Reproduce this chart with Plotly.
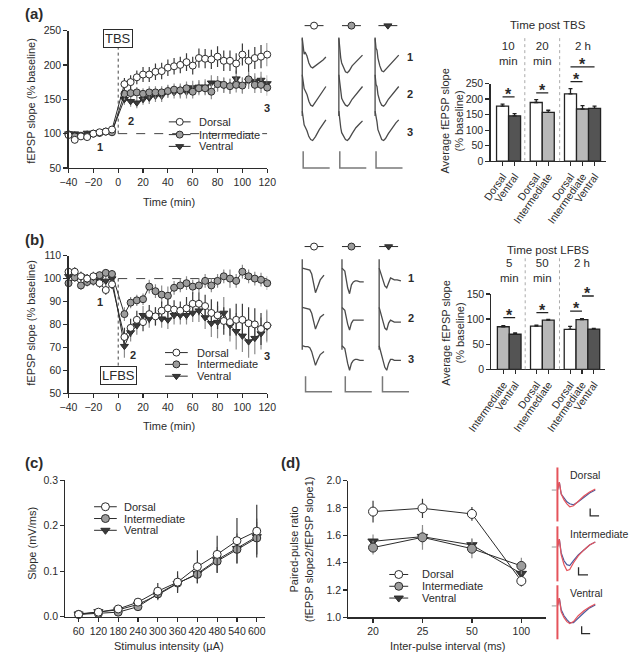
import plotly.graph_objects as go

W, H = 632, 661
FONT = "Liberation Sans, Arial, sans-serif"
INK = "#2b2b2b"

# ---------------- data ----------------
REGIONS = ["Dorsal", "Intermediate", "Ventral"]
TIME = [-40, -35, -30, -25, -20, -15, -10, -5, 5, 10, 15, 20, 25, 30, 35, 40, 45, 50,
        55, 60, 65, 70, 75, 80, 85, 90, 95, 100, 105, 110, 115, 120]

# (a) LTP time course (% baseline)
A_DORSAL = [98, 91, 96, 95, 100, 102, 103, 106, 172, 175, 182, 186, 186, 190, 191, 196, 198, 200,
            204, 199, 210, 209, 208, 212, 206, 206, 202, 215, 206, 210, 212, 215]
A_DORSAL_ERR = [4, 5, 4, 4, 3, 3, 3, 4, 9, 10, 10, 11, 11, 12, 12, 12, 12, 12, 13, 13, 14, 14, 14,
                15, 15, 15, 15, 16, 16, 16, 17, 17]
A_INTERM = [99, 96, 97, 96, 100, 101, 103, 102, 158, 159, 160, 158, 160, 160, 160, 162, 164, 163,
            166, 161, 166, 166, 161, 172, 171, 169, 171, 170, 179, 171, 171, 167]
A_INTERM_ERR = [4, 4, 4, 4, 3, 3, 3, 3, 9, 8, 8, 8, 9, 9, 9, 9, 9, 10, 10, 10, 10, 10, 11, 11, 11,
                11, 11, 11, 12, 12, 12, 12]
A_VENTRAL = [100, 100, 97, 101, 100, 101, 103, 103, 150, 147, 145, 150, 152, 155, 155, 161, 160,
             161, 161, 167, 168, 168, 174, 173, 170, 169, 180, 170, 177, 176, 178, 173]
A_VENTRAL_ERR = [4, 4, 4, 4, 3, 3, 3, 3, 8, 8, 8, 8, 9, 9, 9, 9, 9, 10, 10, 10, 10, 11, 11, 11, 11,
                 11, 12, 12, 12, 12, 12, 12]

# (b) LTD time course (% baseline)
B_DORSAL = [103, 103, 101, 100, 101, 98, 95, 97.5, 74.5, 78.5, 82, 81, 84.5, 83.5, 86, 87, 86.5,
            86, 87, 89, 89, 88, 85, 84, 81.5, 81, 82, 82, 80.5, 80, 78, 79.5]
B_DORSAL_ERR = [2, 2, 2, 2, 2, 2, 2, 2, 4, 4, 4, 4, 4, 4, 4, 4, 4, 4, 5, 5, 5, 5, 6, 6, 6, 6, 7, 7,
                7, 7, 7, 7]
B_INTERM = [98, 100.5, 97, 98.5, 99, 101.5, 102.5, 102, 84.5, 89.5, 90.5, 91, 96.5, 94.5, 93, 92.5,
            96, 97, 98, 96.5, 97, 99, 97, 99, 101, 100, 99, 103, 101, 100, 99.5, 98]
B_INTERM_ERR = [2, 2, 2, 2, 2, 1.5, 1.5, 1.5, 3, 2.5, 2.5, 2.5, 3, 3, 4, 4, 3, 3, 3, 3, 3, 3, 3, 3,
                3, 4, 3, 3, 3, 3, 3, 3]
B_VENTRAL = [101, 101, 101, 100, 99, 100, 99, 100, 70.5, 76.5, 79.5, 84, 82.5, 83.5, 82.5, 82, 84,
             84, 84, 85, 86, 83, 80.5, 81, 85, 79.5, 77, 75, 72.5, 74, 76, 79]
B_VENTRAL_ERR = [2, 2, 2, 2, 2, 2, 2, 2, 5, 4, 4, 4, 4, 4, 4, 4, 4, 4, 4, 4, 5, 5, 6, 7, 7, 7, 8, 7,
                 7, 7, 7, 7]

# bar summaries
BAR_A_LABELS = ["Dorsal", "Ventral", "Dorsal", "Intermediate", "Dorsal", "Intermediate", "Ventral"]
BAR_A_VALUES = [177, 146, 189, 157, 217, 168, 170]
BAR_A_ERR = [7, 7, 9, 7, 17, 11, 7]
BAR_A_GROUPS = ["10<br>min", "20<br>min", "2 h"]
BAR_A_SIG = [(0, 1, 207), (2, 3, 220), (4, 5, 256), (4, 6, 304)]

BAR_B_LABELS = ["Intermediate", "Ventral", "Dorsal", "Intermediate", "Dorsal", "Intermediate", "Ventral"]
BAR_B_VALUES = [84.7, 69.8, 86, 97.8, 79.6, 99, 80]
BAR_B_ERR = [2, 2.5, 2, 1.5, 6, 2, 1.5]
BAR_B_GROUPS = ["5<br>min", "50<br>min", "2 h"]
BAR_B_SIG = [(0, 1, 103), (2, 3, 113), (4, 5, 116), (5, 6, 146)]

# (c) input-output
STIM = [60, 120, 180, 240, 300, 360, 420, 480, 540, 600]
C_DORSAL = [0.005, 0.010, 0.017, 0.032, 0.056, 0.076, 0.110, 0.137, 0.167, 0.188]
C_DORSAL_ERR = [0.003, 0.004, 0.005, 0.007, 0.018, 0.024, 0.036, 0.041, 0.050, 0.058]
C_INTERM = [0.005, 0.007, 0.010, 0.022, 0.050, 0.074, 0.093, 0.122, 0.148, 0.173]
C_INTERM_ERR = [0.002, 0.003, 0.004, 0.005, 0.010, 0.015, 0.020, 0.025, 0.030, 0.035]
C_VENTRAL = [0.006, 0.011, 0.015, 0.027, 0.048, 0.073, 0.095, 0.125, 0.150, 0.176]
C_VENTRAL_ERR = [0.002, 0.003, 0.004, 0.006, 0.012, 0.018, 0.022, 0.028, 0.033, 0.040]

# (d) paired-pulse ratio
IPI = ["20", "25", "50", "100"]
D_DORSAL = [1.773, 1.797, 1.756, 1.266]
D_DORSAL_ERR = [0.08, 0.07, 0.05, 0.04]
D_INTERM = [1.51, 1.585, 1.502, 1.376]
D_INTERM_ERR = [0.05, 0.09, 0.07, 0.06]
D_VENTRAL = [1.556, 1.59, 1.529, 1.32]
D_VENTRAL_ERR = [0.05, 0.06, 0.05, 0.06]

# example fEPSP waveforms (deflection, arbitrary units) — rows 1, 2, 3
WAVE_T_A = [0, 1, 2, 3, 5, 7, 9, 11, 14, 18, 22, 25]
WAVE_A_DORSAL = [[0, 10, 16, 14, 18, 25, 29, 30, 28, 25, 22, 19],
                 [0, 8, 14, 16, 20, 27, 31, 32, 28, 22, 16, 12],
                 [0, 8, 14, 16, 20, 26, 29, 30, 26, 19, 13, 9]]
WAVE_A_INTERM = [[0, 12, 20, 25, 30, 34, 35, 33, 28, 24, 20, 17],
                 [0, 10, 18, 24, 28, 31, 32, 30, 25, 20, 15, 12],
                 [0, 10, 17, 22, 26, 29, 30, 28, 23, 17, 13, 10]]
WAVE_A_VENTRAL = [[0, 10, 12, 20, 28, 33, 34, 32, 28, 24, 20, 17],
                  [0, 10, 12, 20, 27, 31, 32, 30, 25, 20, 15, 12],
                  [0, 9, 11, 19, 25, 29, 30, 28, 23, 17, 12, 9]]

WAVE_T_B = [0, 3, 6, 8, 10, 12, 14, 16, 19, 23]
WAVE_B_DORSAL = [[0, 1, 2, 2, 6, 16, 25, 20, 12, 7],
                 [0, 1, 2, 2, 6, 15, 22, 17, 10, 7],
                 [0, 1, 1, 2, 6, 14, 20, 15, 9, 6]]
WAVE_B_INTERM = [[0, 3, 20, 26, 17, 14, 13, 13, 14, 14],
                 [0, 3, 17, 23, 16, 13, 13, 13, 13, 13],
                 [0, 3, 18, 25, 18, 15, 14, 14, 15, 15]]
WAVE_B_VENTRAL = [[0, 8, 18, 20, 14, 10, 11, 12, 12, 13],
                  [0, 10, 21, 23, 16, 13, 14, 15, 15, 15],
                  [0, 10, 22, 25, 18, 14, 14, 15, 15, 15]]

WAVE_T_D = [0, 2, 4, 7, 10, 13, 17, 22, 28, 34, 40]
WAVE_D_RED = [[0, -8, 4, 10, 14, 17, 16, 11, 6, 2, -1],
              [0, -8, 8, 18, 24, 23, 16, 9, 3, -2, -5],
              [0, -8, 6, 12, 16, 18, 16, 10, 5, 1, -2]]
WAVE_D_BLUE = [[0, -8, 4, 8, 12, 14, 15, 12, 7, 3, 0],
               [0, -8, 6, 14, 18, 19, 14, 8, 3, -2, -5],
               [0, -8, 4, 10, 14, 17, 17, 12, 7, 2, -1]]

# ---------------- styling / layout helpers ----------------
FILL = {"Dorsal": "white", "Intermediate": "#9d9d9d", "Ventral": "#3a3a3a"}
SYMBOL = {"Dorsal": "circle", "Intermediate": "circle", "Ventral": "triangle-down"}
ERRC = {"Dorsal": "#3a3a3a", "Intermediate": "#8c8c8c", "Ventral": "#8c8c8c"}
BARFILL = {"Dorsal": "white", "Intermediate": "#b8b8b8", "Ventral": "#545454"}

BAR_X = [1, 2, 3.8, 4.8, 6.65, 7.65, 8.65]
BAR_SEP = [2.85, 5.75]
GROUP_X = [1.5, 4.3, 7.65]


def dx(a, b):
    return [a / W, b / W]


def dy(top, bottom):
    return [1 - bottom / H, 1 - top / H]


def axis(dom, rng, anchor, **kw):
    d = dict(domain=dom, range=rng, anchor=anchor, showline=True, linecolor=INK, linewidth=1.2,
             ticks="outside", ticklen=4, tickwidth=1.2, tickcolor=INK, showgrid=False,
             zeroline=False, tickangle=0, tickfont=dict(family=FONT, size=10.5, color=INK))
    d.update(kw)
    return d


fig = go.Figure()
ann = []
shapes = []


def txt(x, y, s, size=11, xref="x9", yref="y9", **kw):
    d = dict(x=x, y=y, text=s, xref=xref, yref=yref, showarrow=False,
             font=dict(family=FONT, size=size, color=INK))
    d.update(kw)
    ann.append(d)


def pix_line(xs, ys, color=INK, width=1.2, dash=None):
    fig.add_trace(go.Scatter(x=xs, y=ys, mode="lines", xaxis="x9", yaxis="y9",
                             line=dict(color=color, width=width, dash=dash), hoverinfo="skip"))


def time_panel(xa, ya, series, msize=7):
    for name, vals, errs in series:
        fig.add_trace(go.Scatter(
            x=TIME, y=vals, xaxis=xa, yaxis=ya, mode="lines+markers", cliponaxis=False,
            line=dict(color=INK, width=1),
            marker=dict(symbol=SYMBOL[name], size=msize, color=FILL[name], line=dict(color=INK, width=1)),
            error_y=dict(type="data", array=errs, color=ERRC[name], thickness=1.2, width=0)))


def xy_panel(xa, ya, xs, series, msize=8):
    for name, vals, errs in series:
        fig.add_trace(go.Scatter(
            x=xs, y=vals, xaxis=xa, yaxis=ya, mode="lines+markers", cliponaxis=False,
            line=dict(color=INK, width=1),
            marker=dict(symbol=SYMBOL[name], size=msize, color=FILL[name], line=dict(color=INK, width=1)),
            error_y=dict(type="data", array=errs, color=ERRC[name], thickness=1.2, width=0)))


def legend(x0, x1, xt, ys, msize=7):
    for name, y in zip(REGIONS, ys):
        pix_line([x0, x1], [y, y], width=1)
        fig.add_trace(go.Scatter(x=[(x0 + x1) / 2], y=[y], mode="markers", xaxis="x9", yaxis="y9",
                                 marker=dict(symbol=SYMBOL[name], size=msize, color=FILL[name],
                                             line=dict(color=INK, width=1))))
        txt(xt, y, name, 11, xanchor="left", yanchor="middle")


def bar_panel(xa, ya, yo, labels, values, errs, sig, groups, title, sep_top, bottom, title_y,
              group_y):
    fig.add_trace(go.Bar(
        x=BAR_X, y=values, width=1, xaxis=xa, yaxis=ya,
        marker=dict(color=[BARFILL[l] for l in labels], line=dict(color="#222", width=1.3)),
        error_y=dict(type="data", array=errs, arrayminus=[0] * len(errs), symmetric=False,
                     color="#222", thickness=1.3, width=2)))
    for i, j, v in sig:
        fig.add_trace(go.Scatter(x=[BAR_X[i], BAR_X[j]], y=[v, v], xaxis=xa, yaxis=yo, mode="lines",
                                 line=dict(color="#222", width=1.3)))
        txt((BAR_X[i] + BAR_X[j]) / 2, v, "<b>*</b>", 16, xref=xa, yref=yo, yanchor="bottom", yshift=-8)
    for s in BAR_SEP:
        shapes.append(dict(type="line", xref=xa, yref="y9", x0=s, x1=s, y0=bottom, y1=sep_top,
                           line=dict(color="#aaaaaa", width=1, dash="dot")))
    for gx, g in zip(GROUP_X, groups):
        txt(gx, group_y, g, 11.5, xref=xa, yref="y9", yanchor="top")
    txt(553, title_y, title, 11.5)


# ---------------- (a) time course ----------------
time_panel("x", "y", [("Ventral", A_VENTRAL, A_VENTRAL_ERR), ("Intermediate", A_INTERM, A_INTERM_ERR),
                      ("Dorsal", A_DORSAL, A_DORSAL_ERR)])
shapes.append(dict(type="line", xref="x", yref="y", x0=0, x1=120, y0=100, y1=100,
                   line=dict(color="#444", width=1, dash="dash"), layer="below"))
shapes.append(dict(type="line", xref="x", yref="y", x0=0, x1=0, y0=100, y1=229,
                   line=dict(color="#444", width=1, dash="dot"), layer="below"))
ann.append(dict(x=0, y=238, xref="x", yref="y", text="TBS", showarrow=False, bgcolor="white",
                bordercolor=INK, borderwidth=1, borderpad=1, font=dict(family=FONT, size=13, color=INK)))
for lab, tx, ty in [("1", -15, 80), ("2", 10.5, 119), ("3", 120, 137)]:
    ann.append(dict(x=tx, y=ty, xref="x", yref="y", text="<b>%s</b>" % lab, showarrow=False,
                    font=dict(family=FONT, size=11, color=INK)))
legend(152, 175, 182, [118, 131, 143])

# ---------------- (b) time course ----------------
time_panel("x2", "y2", [("Ventral", B_VENTRAL, B_VENTRAL_ERR), ("Intermediate", B_INTERM, B_INTERM_ERR),
                        ("Dorsal", B_DORSAL, B_DORSAL_ERR)])
shapes.append(dict(type="line", xref="x2", yref="y2", x0=0, x1=120, y0=100, y1=100,
                   line=dict(color="#444", width=1, dash="dash"), layer="below"))
shapes.append(dict(type="line", xref="x2", yref="y2", x0=0, x1=0, y0=100, y1=61,
                   line=dict(color="#444", width=1, dash="dot"), layer="below"))
ann.append(dict(x=0.5, y=57.5, xref="x2", yref="y2", text="LFBS", showarrow=False, bgcolor="white",
                bordercolor=INK, borderwidth=1, borderpad=1, font=dict(family=FONT, size=13, color=INK)))
for lab, tx, ty in [("1", -15, 90), ("2", 12, 66.5), ("3", 120, 66)]:
    ann.append(dict(x=tx, y=ty, xref="x2", yref="y2", text="<b>%s</b>" % lab, showarrow=False,
                    font=dict(family=FONT, size=11, color=INK)))
legend(148, 172, 180, [353, 365, 377])

# ---------------- bar panels ----------------
A_BAR_TOP, A_BAR_BOT = 79.0, 158.0
B_BAR_TOP, B_BAR_BOT = 293.3, 370.0
bar_panel("x3", "y3", "y7", BAR_A_LABELS, BAR_A_VALUES, BAR_A_ERR, BAR_A_SIG, BAR_A_GROUPS,
          "Time post TBS", 32, A_BAR_BOT, 19, 33)
bar_panel("x4", "y4", "y8", BAR_B_LABELS, BAR_B_VALUES, BAR_B_ERR, BAR_B_SIG, BAR_B_GROUPS,
          "Time post LFBS", 256, B_BAR_BOT, 248, 254)

# ---------------- (c) ----------------
xy_panel("x5", "y5", STIM, [("Ventral", C_VENTRAL, C_VENTRAL_ERR), ("Intermediate", C_INTERM, C_INTERM_ERR),
                            ("Dorsal", C_DORSAL, C_DORSAL_ERR)])
legend(73, 97, 103, [510, 522, 534], msize=8)

# ---------------- (d) ----------------
xy_panel("x6", "y6", IPI, [("Ventral", D_VENTRAL, D_VENTRAL_ERR), ("Intermediate", D_INTERM, D_INTERM_ERR),
                           ("Dorsal", D_DORSAL, D_DORSAL_ERR)], msize=9)
legend(385, 405, 417, [579, 591, 603], msize=8)

# ---------------- example traces (a) ----------------
TRACE = "#4a4a4a"
for col, (cx, waves) in enumerate(zip([293, 331.7, 370], [WAVE_A_DORSAL, WAVE_A_INTERM, WAVE_A_VENTRAL])):
    pix_line([cx, cx], [32, 112], color=TRACE, width=1.3)
    for r, y0 in enumerate([33, 70, 107]):
        pix_line([cx + t for t in WAVE_T_A], [y0 + v for v in waves[r]], color=TRACE, width=1.3)
    pix_line([cx + 1, cx + 1, cx + 29], [148, 165, 165], color="#7a7a7a", width=1.5)
for cx, name in zip([305.5, 345, 383.5], REGIONS):
    pix_line([cx - 10, cx + 10], [20, 20], width=1)
    fig.add_trace(go.Scatter(x=[cx], y=[20], mode="markers", xaxis="x9", yaxis="y9",
                             marker=dict(symbol=SYMBOL[name], size=7, color=FILL[name],
                                         line=dict(color=INK, width=1))))
for lab, ly in zip(["1", "2", "3"], [52, 90, 128]):
    txt(407, ly, "<b>%s</b>" % lab, 11)

# ---------------- example traces (b) ----------------
for col, (cx, waves) in enumerate(zip([293, 335, 374.3], [WAVE_B_DORSAL, WAVE_B_INTERM, WAVE_B_VENTRAL])):
    pix_line([cx, cx], [258, 350], color=TRACE, width=1.3)
    for r, y0 in enumerate([267, 307, 346]):
        pix_line([cx + t for t in WAVE_T_B], [y0 + v for v in waves[r]], color=TRACE, width=1.3)
    pix_line([cx + 3.5, cx + 3.5, cx + 31.5], [377, 393, 393], color="#7a7a7a", width=1.5)
for cx, name in zip([305.5, 345, 384.3], REGIONS):
    pix_line([cx - 10, cx + 10], [245, 245], width=1)
    fig.add_trace(go.Scatter(x=[cx], y=[245], mode="markers", xaxis="x9", yaxis="y9",
                             marker=dict(symbol=SYMBOL[name], size=7, color=FILL[name],
                                         line=dict(color=INK, width=1))))
for lab, ly in zip(["1", "2", "3"], [277, 318, 360]):
    txt(408, ly, "<b>%s</b>" % lab, 11)

# ---------------- example traces (d) ----------------
SX = 562.7
for r, (base, top, bot) in enumerate([(493, 470, 525), (551, 530, 586), (611, 590, 645)]):
    pix_line([SX - 6, SX - 1], [base, base], color="#999", width=1)
    pix_line([SX + t for t in WAVE_T_D], [base + v for v in WAVE_D_BLUE[r]], color="#4b5a9c", width=1.2)
    pix_line([SX + t for t in WAVE_T_D], [base + v for v in WAVE_D_RED[r]], color="#e5535b", width=1.2)
    pix_line([SX, SX], [top, bot], color="#e5535b", width=2)
for name, ty in zip(REGIONS, [478, 538, 598]):
    txt(574, ty, name, 10.5, xanchor="left")
for x0, yt, yb, ln in [(597.3, 511.7, 519.3, 9.4), (585, 571.7, 579.3, 10), (588.3, 631.7, 639.3, 9)]:
    pix_line([x0, x0, x0 + ln], [yt, yb, yb], color=INK, width=1.3)

# ---------------- titles / labels ----------------
txt(10, 8, "<b>(a)</b>", 15)
txt(10, 238, "<b>(b)</b>", 15)
txt(10, 465, "<b>(c)</b>", 15)
txt(281, 465, "<b>(d)</b>", 15)
txt(7, 97, "fEPSP slope (% baseline)", 11, textangle=-90)
txt(152, 200, "Time (min)", 11)
txt(7, 323, "fEPSP slope (% baseline)", 11, textangle=-90)
txt(152, 428, "Time (min)", 11)
txt(451, 117, "Average fEPSP slope<br>(% baseline)", 11, textangle=-90)
txt(452, 333, "Average fEPSP slope<br>(% baseline)", 11, textangle=-90)
txt(7, 547, "Slope (mV/ms)", 11, textangle=-90)
txt(152, 652, "Stimulus intensity (µA)", 11)
txt(292, 553, "Paired-pulse ratio<br>(fEPSP slope2/fEPSP slope1)", 11, textangle=-90)
txt(447, 652, "Inter-pulse interval (ms)", 11)

# ---------------- axes ----------------
rng_a = 250 * (A_BAR_BOT - 0) / (A_BAR_BOT - A_BAR_TOP)
rng_b = 150 * (B_BAR_BOT - 190) / (B_BAR_BOT - B_BAR_TOP)

fig.update_layout(
    width=W, height=H, margin=dict(l=0, r=0, t=0, b=0),
    paper_bgcolor="white", plot_bgcolor="rgba(0,0,0,0)", showlegend=False,
    font=dict(family=FONT, size=11, color=INK),
    xaxis=axis(dx(46, 256), [-40, 120], "y", tickvals=list(range(-40, 121, 20))),
    yaxis=axis(dy(25, 165), [50, 250], "x", tickvals=list(range(50, 251, 50))),
    xaxis2=axis(dx(46, 256), [-40, 120], "y2", tickvals=list(range(-40, 121, 20))),
    yaxis2=axis(dy(254.3, 394.3), [50, 110], "x2", tickvals=list(range(50, 111, 10))),
    xaxis3=axis(dx(492, 614), [0, 9.6], "y3", tickvals=BAR_X, ticktext=BAR_A_LABELS, tickangle=-55),
    yaxis3=axis(dy(A_BAR_TOP, A_BAR_BOT), [0, 250], "x3", tickvals=list(range(0, 251, 50))),
    xaxis4=axis(dx(493, 613), [0, 9.6], "y4", tickvals=BAR_X, ticktext=BAR_B_LABELS, tickangle=-55),
    yaxis4=axis(dy(B_BAR_TOP, B_BAR_BOT), [0, 150], "x4", tickvals=[0, 50, 100, 150]),
    xaxis5=axis(dx(42.7, 254), [20, 626], "y5", tickvals=STIM),
    yaxis5=axis(dy(483, 622), [0, 0.3], "x5", tickvals=[0, 0.1, 0.2, 0.3], tickformat=".1f"),
    xaxis6=axis(dx(341.7, 550.7), [-0.5, 3.5], "y6", type="category"),
    yaxis6=axis(dy(483.3, 622.7), [1.0, 2.0], "x6", tickvals=[1.0, 1.2, 1.4, 1.6, 1.8, 2.0],
                tickformat=".1f"),
    yaxis7=dict(domain=dy(0, A_BAR_BOT), range=[0, rng_a], anchor="x3", visible=False),
    yaxis8=dict(domain=dy(190, B_BAR_BOT), range=[0, rng_b], anchor="x4", visible=False),
    xaxis9=dict(domain=[0, 1], range=[0, W], anchor="y9", visible=False),
    yaxis9=dict(domain=[0, 1], range=[H, 0], anchor="x9", visible=False),
    annotations=ann, shapes=shapes,
)

fig.write_html("out.html", config={"displayModeBar": False, "staticPlot": True},
               post_script="document.body.style.margin='0';")
